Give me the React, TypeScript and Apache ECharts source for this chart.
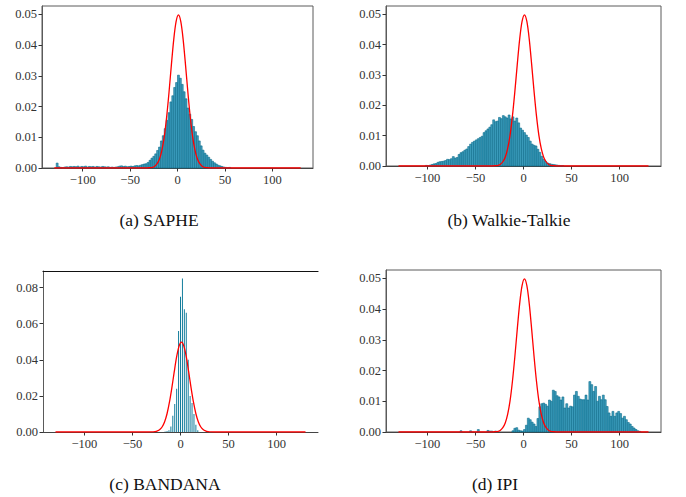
import React, { useEffect, useRef } from "react";
import * as echarts from "echarts";

// Histogram bins are 2 units wide; each array starts at the given bin centre.
const BIN_WIDTH = 2;

const sapheFirstCenter = -127;
const sapheValues = [
  0.0016, 0.0004, 0.0002, 0.0001, 0.0003, 0.0004, 0.0003, 0.0005, 0.0004, 0.0005,
  0.0004, 0.0006, 0.0003, 0.0005, 0.0004, 0.0006, 0.0003, 0.0005, 0.0004, 0.0005,
  0.0003, 0.0005, 0.0004, 0.0003, 0.0005, 0.0004, 0.0003, 0.0004, 0.0002, 0.0003,
  0.0002, 0.0003, 0.0004, 0.0006, 0.0007, 0.0005, 0.0006, 0.0004, 0.0005, 0.0006,
  0.0005, 0.0007, 0.0008, 0.0007, 0.0009, 0.0011, 0.0013, 0.0014, 0.0018, 0.0025,
  0.0032, 0.0038, 0.0046, 0.0057, 0.0068, 0.0088, 0.0105, 0.0128, 0.0155, 0.018,
  0.0215, 0.0235, 0.0262, 0.0278, 0.0302, 0.0292, 0.0272, 0.0248, 0.0225, 0.0195,
  0.0175, 0.0158, 0.0135, 0.0118, 0.0105, 0.0088, 0.0072, 0.0058, 0.0048, 0.0042,
  0.0035, 0.0028, 0.0022, 0.0017, 0.0013, 0.0009, 0.0007, 0.0005, 0.0003, 0.0002,
  0.0001, 0.0002,
];

const walkieFirstCenter = -101;
const walkieValues = [
  0.0002, 0.0001, 0.0003, 0.0005, 0.0007, 0.0008, 0.0012, 0.0014, 0.0015, 0.0016,
  0.0018, 0.0022, 0.0021, 0.0024, 0.0031, 0.0026, 0.0028, 0.0038, 0.0044, 0.0047,
  0.0052, 0.0056, 0.0064, 0.0072, 0.0078, 0.0082, 0.0086, 0.009, 0.0094, 0.0098,
  0.011, 0.0116, 0.0122, 0.0128, 0.0136, 0.0152, 0.0146, 0.0148, 0.016, 0.0156,
  0.0166, 0.0162, 0.0158, 0.0168, 0.0155, 0.0162, 0.0148, 0.0158, 0.0142, 0.0125,
  0.0118, 0.011, 0.0102, 0.0094, 0.0082, 0.0072, 0.0068, 0.0066, 0.0055, 0.0045,
  0.0032, 0.0022, 0.0015, 0.001, 0.0008, 0.0006, 0.0005, 0.0004, 0.0003, 0.0002,
  0.0001, 0.0001,
];

// BANDANA values fall on a coarse grid, drawn as thin separate bars
const bandanaCenters = [-16, -14, -12, -10, -8, -6, -4, -2, 0, 2, 4, 6, 8, 10, 12, 14, 16, 18];
const bandanaValues = [
  0.0003, 0.0005, 0.001, 0.003, 0.009, 0.0155, 0.024, 0.056, 0.075, 0.085,
  0.068, 0.066, 0.04, 0.02, 0.016, 0.01, 0.004, 0.001,
];

const ipiFirstCenter = -65;
const ipiValues = [
  0.0004, 0, 0, 0, 0, 0.0004, 0, 0, 0, 0.0008,
  0, 0, 0, 0, 0.0005, 0.0003, 0.0003, 0, 0.0003, 0,
  0, 0, 0, 0, 0, 0, 0, 0.0004, 0.0012, 0.0014,
  0.0006, 0.0004, 0.0003, 0.0008, 0.0022, 0.0045, 0.004, 0.0032, 0.0026, 0.0018,
  0.0044, 0.0082, 0.0092, 0.0094, 0.009, 0.0084, 0.0104, 0.01, 0.0136, 0.0132,
  0.0118, 0.0114, 0.0104, 0.0114, 0.0078, 0.0092, 0.0078, 0.0084, 0.0082, 0.012,
  0.0132, 0.0116, 0.0107, 0.0105, 0.0105, 0.012, 0.0104, 0.0164, 0.0154, 0.0132,
  0.0148, 0.01, 0.0116, 0.0105, 0.012, 0.0105, 0.0083, 0.0062, 0.0051, 0.0067,
  0.0051, 0.0062, 0.0067, 0.006, 0.0045, 0.0051, 0.004, 0.0031, 0.0026, 0.0018,
  0.0013, 0.0008, 0.0004, 0.0002,
];

// Reference normal density (red curve), same in every panel
const normalX = [
  -130, -40, -34, -29, -26.5, -24, -21.5, -19, -16.5, -14, -11.5, -9, -6.5, -4, -1.5,
  1, 3.5, 6, 8.5, 11, 13.5, 16, 18.5, 21, 23.5, 26, 28.5, 31, 36, 42, 130,
];
const normalY = [
  0, 0, 0, 0.0001, 0.0002, 0.0006, 0.0014, 0.0029, 0.0057, 0.0101, 0.0165, 0.0245, 0.0334, 0.0417, 0.0476,
  0.0498, 0.0476, 0.0417, 0.0334, 0.0245, 0.0165, 0.0101, 0.0057, 0.0029, 0.0014, 0.0006, 0.0002, 0.0001, 0, 0, 0,
];

const xTicks = [-100, -50, 0, 50, 100];
const yTicksSmall = [0, 0.01, 0.02, 0.03, 0.04, 0.05];
const yTicksLarge = [0, 0.02, 0.04, 0.06, 0.08];

const captions = ["(a) SAPHE", "(b) Walkie-Talkie", "(c) BANDANA", "(d) IPI"];

const TICK_FONT = "'Liberation Serif', 'DejaVu Serif', serif";
const CAPTION_FONT = "'Liberation Serif', 'DejaVu Serif', serif";

function binned(first: number, values: number[]) {
  return values.map((v, i) => {
    const c = first + i * BIN_WIDTH;
    return [c - BIN_WIDTH / 2, c + BIN_WIDTH / 2, v];
  });
}

function thinBars(centers: number[], values: number[]) {
  return values.map((v, i) => [centers[i] - 0.5, centers[i] + 0.5, v]);
}

const fmtX = (v: number) => (v < 0 ? "\u2212" + Math.abs(v) : String(v));

export default function App() {
  const ref = useRef<HTMLDivElement>(null);

  useEffect(() => {
    if (!ref.current) return;
    const chart = echarts.init(ref.current, undefined, { renderer: "svg" });

    const panels = [
      { grid: { left: 42, top: 6, width: 271, height: 162 }, yMax: 0.0527, yTicks: yTicksSmall, data: binned(sapheFirstCenter, sapheValues), thin: false, box: true },
      { grid: { left: 386, top: 6, width: 275, height: 160 }, yMax: 0.0527, yTicks: yTicksSmall, data: binned(walkieFirstCenter, walkieValues), thin: false, box: true },
      { grid: { left: 43, top: 271, width: 275, height: 161 }, yMax: 0.0892, yTicks: yTicksLarge, data: thinBars(bandanaCenters, bandanaValues), thin: true, box: false },
      { grid: { left: 386, top: 270, width: 275, height: 162 }, yMax: 0.0527, yTicks: yTicksSmall, data: binned(ipiFirstCenter, ipiValues), thin: false, box: true },
    ];

    const labelStyle = { fontFamily: TICK_FONT, fontSize: 12.5, color: "#333" };

    const grid: any[] = [];
    const xAxis: any[] = [];
    const yAxis: any[] = [];
    const series: any[] = [];

    panels.forEach((p, i) => {
      grid.push({
        ...p.grid,
        show: p.box,
        borderColor: "#5a5a5a",
        borderWidth: 1,
        backgroundColor: "transparent",
        containLabel: false,
      });
      xAxis.push({
        type: "value",
        gridIndex: i,
        min: -143,
        max: 143,
        axisLine: { show: true, onZero: false, lineStyle: { color: "#444", width: 1 } },
        axisTick: { show: true, customValues: xTicks, length: 3.5, lineStyle: { color: "#333" } },
        axisLabel: { ...labelStyle, customValues: xTicks, formatter: fmtX, margin: 5 },
        splitLine: { show: false },
      });
      yAxis.push({
        type: "value",
        gridIndex: i,
        min: 0,
        max: p.yMax,
        axisLine: { show: true, onZero: false, lineStyle: { color: "#5a5a5a", width: 1 } },
        axisTick: { show: true, customValues: p.yTicks, length: 3.5, lineStyle: { color: "#333" } },
        axisLabel: { ...labelStyle, customValues: p.yTicks, formatter: (v: number) => v.toFixed(2), margin: 5 },
        splitLine: { show: false },
      });

      series.push({
        type: "custom",
        xAxisIndex: i,
        yAxisIndex: i,
        encode: { x: [0, 1], y: 2 },
        data: p.data,
        z: 2,
        renderItem: (_params: any, api: any) => {
          const x0 = api.value(0);
          const x1 = api.value(1);
          const y = api.value(2);
          if (!y) return null;
          const top = api.coord([x0, y]);
          const base = api.coord([x1, 0]);
          return {
            type: "rect",
            shape: { x: top[0], y: top[1], width: base[0] - top[0], height: base[1] - top[1] },
            style: p.thin
              ? { fill: "#0a7898" }
              : { fill: "#3d9dbd", stroke: "#0b6c8c", lineWidth: 0.6 },
          };
        },
      });

      series.push({
        type: "line",
        xAxisIndex: i,
        yAxisIndex: i,
        data: normalX.map((x, k) => [x, normalY[k]]),
        smooth: 0.3,
        showSymbol: false,
        silent: true,
        z: 5,
        lineStyle: { color: "#ff0000", width: 1.3 },
      });
    });

    // BANDANA panel: dark top spine, no right spine
    xAxis.push({
      type: "value",
      gridIndex: 2,
      position: "top",
      min: -143,
      max: 143,
      axisLine: { show: true, onZero: false, lineStyle: { color: "#111", width: 1.2 } },
      axisTick: { show: false },
      axisLabel: { show: false },
      splitLine: { show: false },
    });

    const captionPos = [
      [159, 220],
      [509, 220],
      [165, 484],
      [495, 484],
    ];

    chart.setOption({
      animation: false,
      backgroundColor: "#ffffff",
      grid,
      xAxis,
      yAxis,
      series,
      graphic: captions.map((t, i) => ({
        type: "text",
        x: captionPos[i][0],
        y: captionPos[i][1],
        style: {
          text: t,
          fontFamily: CAPTION_FONT,
          fontSize: 17.5,
          fill: "#111",
          align: "center",
          verticalAlign: "middle",
        },
      })),
    });

    return () => chart.dispose();
  }, []);

  return (
    <div
      ref={ref}
      style={{ position: "fixed", left: 0, top: 0, width: 686, height: 497, background: "#fff" }}
    />
  );
}
